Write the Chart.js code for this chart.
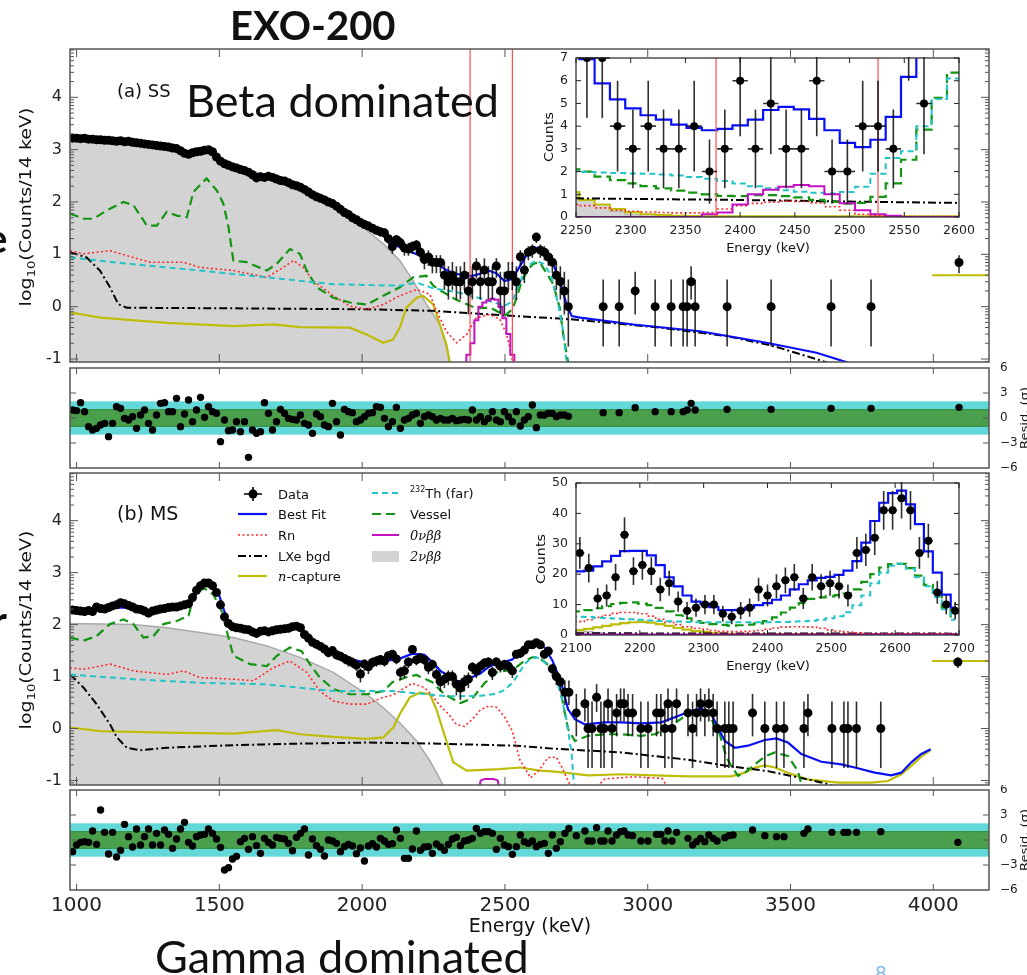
<!DOCTYPE html>
<html>
<head>
<meta charset="utf-8">
<title>EXO-200 fit</title>
<script src="https://cdn.jsdelivr.net/npm/chart.js@4.4.1/dist/chart.umd.min.js"></script>
<style>
  html, body { margin: 0; padding: 0; background: #fff; }
  body { position: relative; width: 1027px; height: 975px; overflow: hidden; font-family: 'DejaVu Sans', sans-serif; color: #111; }
  canvas { position: absolute; }
  .txt { position: absolute; white-space: nowrap; line-height: 1; }
  .ctr { transform: translate(-50%, -50%); }
  .rot { transform: translate(-50%, -50%) rotate(-90deg) scaleX(1.19); }
  .leg { position: absolute; white-space: nowrap; font-size: 13px; line-height: 1; transform: translateY(-50%); color: #111; }
  .gk { font-family: 'DejaVu Serif', serif; font-style: italic; }
  sub, sup { line-height: 0; }
</style>
</head>
<body>
<canvas id="mainA" width="1027" height="330" style="left:0;top:40px"></canvas>
<canvas id="residA" width="1027" height="112" style="left:0;top:362px"></canvas>
<canvas id="mainB" width="1027" height="330" style="left:0;top:465px"></canvas>
<canvas id="residB" width="1027" height="150" style="left:0;top:785px"></canvas>
<canvas id="insetA" width="460" height="210" style="left:520px;top:50px"></canvas>
<canvas id="insetB" width="460" height="205" style="left:520px;top:475px"></canvas>

<div class="txt" style="left:230px;top:5px;font:700 40px/1 Lato">EXO-200</div>
<div class="txt" style="left:186px;top:78px;font:400 45px/1 Lato">Beta dominated</div>
<div class="txt" style="left:155px;top:934px;font:400 45px/1 Lato">Gamma dominated</div>
<div class="txt" style="left:-14px;top:218px;font:700 40px/1 Lato">e</div>
<div class="txt" style="left:-8px;top:600px;font:700 40px/1 Lato">r</div>
<div class="txt" style="left:875px;top:962px;font:400 20px/1 Lato;color:#7db9ea">8</div>

<div class="txt" style="left:117px;top:82px;font-size:18px">(a) SS</div>
<div class="txt" style="left:117px;top:504px;font-size:19px">(b) MS</div>
<div class="txt rot" style="left:26px;top:207px;font-size:16px">log<sub style="font-size:11px">10</sub>(Counts/14 keV)</div>
<div class="txt rot" style="left:26px;top:630px;font-size:16px">log<sub style="font-size:11px">10</sub>(Counts/14 keV)</div>
<div class="txt rot" style="left:1024px;top:418px;font-size:11px">Resid. (σ)</div>
<div class="txt rot" style="left:1024px;top:840px;font-size:11px">Resid. (σ)</div>
<div class="txt ctr" style="left:530px;top:925px;font-size:19px">Energy (keV)</div>
<div class="txt ctr" style="left:768px;top:247px;font-size:13px">Energy (keV)</div>
<div class="txt ctr" style="left:768px;top:665px;font-size:13px">Energy (keV)</div>
<div class="txt rot" style="left:549px;top:137px;font-size:12px">Counts</div>
<div class="txt rot" style="left:541px;top:559px;font-size:12px">Counts</div>

<div class="leg" style="left:278px;top:494px">Data</div>
<div class="leg" style="left:278px;top:514px">Best Fit</div>
<div class="leg" style="left:278px;top:535px">Rn</div>
<div class="leg" style="left:278px;top:556px">LXe bgd</div>
<div class="leg" style="left:278px;top:576px"><span class="gk">n</span>-capture</div>
<div class="leg" style="left:410px;top:493px"><sup style="font-size:8px">232</sup>Th (far)</div>
<div class="leg" style="left:410px;top:514px">Vessel</div>
<div class="leg" style="left:410px;top:535px"><span class="gk">0νββ</span></div>
<div class="leg" style="left:410px;top:556px"><span class="gk">2νββ</span></div>

<script>
// ---- binning / axes ----
const BIN_START = 986;
const BIN_WIDTH = 14;
const xTicks = [1000, 1500, 2000, 2500, 3000, 3500, 4000];
const mainYTicks = [-1, 0, 1, 2, 3, 4];
const residYTicks = [-6, -3, 0, 3, 6];
const roiEdges = [2378, 2526];
const insetAXTicks = [2250, 2300, 2350, 2400, 2450, 2500, 2550, 2600];
const insetAYTicks = [0, 1, 2, 3, 4, 5, 6, 7];
const insetBXTicks = [2100, 2200, 2300, 2400, 2500, 2600, 2700];
const insetBYTicks = [0, 10, 20, 30, 40, 50];

// ---- (a) single-site: data, log10(counts) per 14 keV bin ----
const ssData = [
  3.22, 3.22, 3.21, 3.22, 3.20, 3.20, 3.19, 3.19, 3.18, 3.18,
  3.17, 3.16, 3.17, 3.15, 3.16, 3.14, 3.13, 3.12, 3.11, 3.10,
  3.09, 3.08, 3.07, 3.06, 3.05, 3.03, 3.02, 2.98, 2.93, 2.91,
  2.94, 2.96, 2.97, 2.99, 3.00, 2.96, 2.86, 2.78, 2.73, 2.70,
  2.67, 2.65, 2.62, 2.60, 2.57, 2.52, 2.46, 2.48, 2.47, 2.49,
  2.47, 2.44, 2.41, 2.40, 2.37, 2.33, 2.31, 2.28, 2.24, 2.19,
  2.14, 2.10, 2.07, 2.04, 2.00, 1.97, 1.92, 1.86, 1.80, 1.76,
  1.70, 1.66, 1.61, 1.57, 1.54, 1.50, 1.46, 1.43, 1.41, 1.30,
  1.15, 1.28, 1.22, 1.12, 1.10, 1.15, 1.18, 1.04, 0.90, 0.95,
  0.85, 0.845, 0.845, 0.602, 0.477, 0.602, 0.477, 0.477, 0.602, 0.301,
  0.477, 0.778, 0.477, 0.699, 0.477, 0.477, 0.778, 0.301, 0.301, 0.602,
  0.602, 0.477, 0.954, 0.699, 1.04, 1.08, 1.33, 1.08, 1.04, 0.95,
  0.85, 0.60, 0.48, 0.30, 0
];
const ssSparseE = [2844, 2900, 2956, 3026, 3082, 3124, 3138, 3152, 3166, 3278, 3432, 3642, 3782, 4090];
const ssSparse = [0, 0, 0.301, 0, 0, 0, 0, 0.477, 0, 0, 0, 0, 0, 0.845];
const ssResid = [
  0.96, 0.88, 1.84, 0.76, -1.04, -1.44, -1.24, -0.84, -0.64, -2.24,
  -0.64, 1.36, 1.16, -0.04, -0.24, 0.16, -1.24, 0.36, 0.96, -0.64,
  -1.44, 0.36, 1.76, 1.84, 0.76, 0.76, 2.36, -1.04, 0.48, 2.16,
  -0.44, 0.96, 2.48, 0.08, 1.36, 0.76, 0.56, -2.84, -0.24, -1.52,
  -1.44, -0.44, -1.64, -0.44, -4.72, -1.44, -1.84, -1.64, 1.84, 0.56,
  -1.44, -0.44, 1.04, 0.56, -0.04, -0.16, -0.24, 0.36, -0.64, -0.84,
  -1.84, 0.48, 0.16, -0.84, -1.04, 1.76, -0.44, -2.04, 1.04, 0.76,
  0.64, -0.44, -0.24, 0.16, 0.56, 0.64, 1.36, 1.28, -0.04, -1.04,
  -0.44, 1.28, -1.24, -0.24, -0.04, 0.36, 0.56, -0.64, 0.16, 0.36,
  0.16, -0.24, -0.04, -0.24, -0.24, -0.04, -0.32, -0.24, -0.16, -0.24,
  0.96, -0.24, 0.16, -0.44, -0.04, 0.76, -0.24, -0.44, 0.76, 0.16,
  -0.44, 0.76, -0.96, -0.24, 0.16, 1.56, -1.16, 0.36, 0.36, 0.56,
  0.56, 0.16, 0.36, 0.36, 0.2
];
const ssResidSparse = [0.64, 0.64, 1.24, 0.76, 0.76, 0.76, 0.96, 1.76, 0.96, 1.04, 1.04, 1.16, 1.16, 1.28];

// (a) model components, log10(counts)
const ssBestE = [977, 1100, 1200, 1300, 1380, 1420, 1460, 1500, 1540, 1620, 1700, 1782, 1850, 1899, 1960, 2016, 2074, 2132, 2191, 2249,
  2274, 2302, 2330, 2358, 2386, 2414, 2442, 2470, 2498, 2526, 2554, 2582, 2600, 2622, 2646, 2669, 2692, 2716, 2734, 2763,
  2950, 3183, 3416, 3591, 3708, 3760];
const ssBest = [3.21, 3.18, 3.14, 3.07, 2.96, 2.95, 2.99, 2.82, 2.70, 2.55, 2.45, 2.30, 2.10, 1.96, 1.74, 1.55, 1.35, 1.13, 1.00, 0.86,
  0.77, 0.68, 0.63, 0.59, 0.59, 0.63, 0.69, 0.64, 0.49, 0.53, 0.79, 1.04, 1.14, 1.10, 1.01, 0.82, 0.49, 0.04, -0.18, -0.21,
  -0.34, -0.47, -0.69, -0.88, -1.08, -1.2];
const ssThE = [977, 1199, 1432, 1666, 1899, 2132, 2191, 2249, 2330, 2400, 2450, 2500, 2526, 2540, 2554, 2568, 2582, 2610, 2635, 2660, 2687, 2704, 2716, 2722];
const ssTh = [0.94, 0.81, 0.69, 0.56, 0.43, 0.40, 0.46, 0.35, 0.28, 0.18, 0.10, 0.02, 0.10, 0.32, 0.46, 0.72, 0.79, 0.88, 0.82, 0.62, 0.04, -0.47, -1.08, -1.3];
const ssVesselE = [977, 1024, 1059, 1106, 1164, 1199, 1246, 1281, 1316, 1351, 1386, 1409, 1455, 1491, 1514, 1532, 1549, 1596, 1666, 1701,
  1747, 1782, 1806, 1841, 1899, 1957, 2016, 2074, 2132, 2179, 2225, 2249, 2274, 2330, 2400, 2450, 2500, 2526, 2540, 2554,
  2568, 2582, 2600, 2622, 2669, 2692, 2704, 2722, 2730];
const ssVessel = [1.78, 1.68, 1.68, 1.84, 2.0, 1.94, 1.55, 1.55, 1.81, 1.74, 1.71, 2.19, 2.45, 2.22, 1.97, 1.52, 0.88, 0.85, 0.69, 0.82,
  1.1, 1.01, 0.69, 0.37, 0.17, 0.08, 0.04, 0.21, 0.37, 0.56, 0.59, 0.40, 0.31, 0.13, -0.03, -0.02, -0.17, -0.05, 0.16, 0.40,
  0.58, 0.72, 0.82, 0.85, 0.43, -0.02, -0.53, -1.08, -1.3];
const ssRnE = [977, 1024, 1117, 1199, 1257, 1374, 1432, 1549, 1666, 1724, 1759, 1794, 1829, 1899, 1957, 2016, 2074, 2132, 2191, 2237,
  2260, 2295, 2331, 2366, 2400, 2447, 2482, 2506, 2529, 2545];
const ssRn = [1.07, 1.01, 1.07, 0.94, 0.85, 0.85, 0.75, 0.69, 0.56, 0.75, 0.88, 0.75, 0.49, 0.21, 0.01, -0.05, 0.04, 0.21, 0.33, 0.24,
  -0.08, -0.47, -0.69, -0.53, -0.21, -0.15, -0.24, -0.53, -1.08, -1.3];
const ssLxeE = [977, 1035, 1082, 1117, 1146, 1176, 1500, 2016, 2249, 2482, 2727, 3042, 3276, 3439, 3637, 3700];
const ssLxe = [1.04, 0.94, 0.69, 0.37, 0.05, -0.02, -0.03, -0.05, -0.08, -0.16, -0.24, -0.40, -0.56, -0.75, -1.08, -1.2];
const ssZeroE = [2358, 2372, 2386, 2400, 2414, 2428, 2442, 2456, 2470, 2484, 2498, 2512, 2526, 2540];
const ssZero = [-1.5, -0.92, -0.70, -0.26, 0.0, 0.08, 0.12, 0.15, 0.13, 0.0, -0.22, -0.52, -0.92, -1.5];
const ssNcapE = [977, 1082, 1316, 1549, 1689, 1782, 1957, 2016, 2074, 2108, 2132, 2155, 2191, 2213, 2249, 2272, 2295, 2307, 2315];
const ssNcap = [-0.11, -0.21, -0.31, -0.37, -0.34, -0.39, -0.40, -0.53, -0.69, -0.63, -0.40, -0.02, 0.17, 0.21, 0.04, -0.34, -0.72, -1.08, -1.3];
const ssNcapOverE = [3995, 4200];
const ssNcapOver = [0.60, 0.60];
const ssDbdE = [977, 1100, 1200, 1300, 1400, 1455, 1500, 1620, 1700, 1782, 1850, 1899, 1960, 2016, 2074, 2132, 2179, 2225, 2272, 2300, 2315];
const ssDbd = [3.16, 3.13, 3.09, 3.04, 2.97, 2.92, 2.85, 2.58, 2.45, 2.29, 2.12, 1.94, 1.72, 1.46, 1.20, 0.88, 0.49, 0.05, -0.34, -0.85, -1.3];

// (a) inset, counts per bin (model bins start at 2246, data at 2260)
const SS_INSET_BIN0 = 2246;
const SS_INSET_DATA0 = 2260;
const ssInCounts = [7, 7, 4, 3, 4, 3, 3, 4, 2, 3, 6, 3, 5, 3, 3, 6, 2, 2, 4, 4, 3, 9, 5];
const ssInBest = [7.3, 6.95, 5.88, 5.18, 4.78, 4.48, 4.29, 4.07, 3.92, 3.82, 3.88, 4.03, 4.29, 4.71, 4.85, 4.74, 4.32, 3.82, 3.26, 3.08,
  3.40, 4.41, 6.17, 9.0, 11.0, 13.0, 13.5];
const ssInTh = [2.0, 1.98, 1.96, 1.94, 1.92, 1.9, 1.87, 1.83, 1.76, 1.68, 1.58, 1.48, 1.35, 1.27, 1.18, 1.11, 1.07, 1.04, 1.1, 1.33,
  1.9, 2.6, 2.9, 4.0, 5.2, 6.1, 6.2];
const ssInVessel = [2.1, 2.0, 1.78, 1.62, 1.48, 1.36, 1.26, 1.16, 1.07, 1.0, 0.93, 0.92, 0.96, 0.96, 0.92, 0.86, 0.75, 0.67, 0.59, 0.62,
  0.89, 1.48, 2.52, 3.85, 5.25, 6.36, 6.4];
const ssInRn = [0.55, 0.5, 0.4, 0.3, 0.25, 0.22, 0.2, 0.18, 0.18, 0.2, 0.35, 0.5, 0.6, 0.65, 0.7, 0.68, 0.62, 0.45, 0.3, 0.12,
  0.05, 0.03, 0.02, 0.02, 0.02, 0.02, 0.02];
const ssInZero = [0, 0, 0, 0, 0, 0, 0, 0, 0, 0.12, 0.2, 0.55, 1.0, 1.2, 1.33, 1.41, 1.35, 1.0, 0.6, 0.3,
  0.12, 0.05, 0, 0, 0, 0, 0];
const ssInNcap = [1.1, 0.75, 0.55, 0.35, 0.2, 0.12, 0.08, 0.05, 0.04, 0.03, 0.03, 0.03, 0.03, 0.03, 0.03, 0.03, 0.03, 0.03, 0.03, 0.03,
  0.03, 0.03, 0.03, 0.03, 0.03, 0.03, 0.03];
const ssInDbd = [0.95, 0.75, 0.55, 0.25, 0.1, 0.04, 0.02, 0, 0, 0, 0, 0, 0, 0, 0, 0, 0, 0, 0, 0,
  0, 0, 0, 0, 0, 0, 0];
const ssInLxeE = [2250, 2400, 2500, 2600];
const ssInLxe = [0.82, 0.75, 0.68, 0.62];

// ---- (b) multi-site ----
const msData = [
  2.28, 2.27, 2.26, 2.25, 2.27, 2.25, 2.34, 2.31, 2.30, 2.33,
  2.36, 2.38, 2.42, 2.40, 2.37, 2.34, 2.30, 2.29, 2.26, 2.22,
  2.26, 2.28, 2.30, 2.31, 2.33, 2.34, 2.34, 2.36, 2.38, 2.40,
  2.52, 2.66, 2.75, 2.80, 2.80, 2.75, 2.62, 2.38, 2.15, 2.02,
  1.96, 1.94, 1.93, 1.91, 1.90, 1.86, 1.83, 1.87, 1.88, 1.86,
  1.88, 1.90, 1.91, 1.92, 1.93, 1.96, 1.97, 1.94, 1.81, 1.74,
  1.66, 1.62, 1.58, 1.53, 1.46, 1.50, 1.42, 1.39, 1.35, 1.31,
  1.27, 1.22, 1.05, 1.24, 1.19, 1.27, 1.30, 1.33, 1.30, 1.40,
  1.43, 1.34, 1.08, 1.11, 1.28, 1.52, 1.32, 1.36, 1.32, 1.18,
  1.23, 1.04, 0.90, 0.95, 1.00, 1.00, 0.85, 0.78, 0.90, 0.95,
  1.18, 1.11, 1.20, 1.26, 1.28, 1.08, 1.28, 1.20, 1.23, 1.20,
  1.11, 1.43, 1.45, 1.51, 1.61, 1.61, 1.65, 1.61, 1.43, 1.49,
  1.15, 1.00, 0.90
];
const msSparseE = [2710, 2724, 2750, 2780, 2791, 2805, 2821, 2836, 2847, 2861, 2875, 2891, 2905, 2917, 2931, 2947, 2976, 3001, 3031, 3046,
  3060, 3071, 3085, 3101, 3141, 3157, 3171, 3185, 3200, 3214, 3229, 3243, 3270, 3284, 3299, 3367, 3410, 3451, 3477, 3547,
  3561, 3645, 3687, 3701, 3731, 3816, 4086];
const msSparse = [0.699, 0.699, 0.301, 0.477, 0, 0, 0.602, 0, 0, 0.477, 0, 0.301, 0.477, 0.477, 0.301, 0.301, 0, 0, 0.301, 0.301,
  0, 0.477, 0, 0.477, 0.301, 0, 0.301, 0.477, 0.301, 0.477, 0.301, 0, 0, 0, 0, 0.301, 0, 0, 0, 0,
  0.301, 0, 0, 0, 0, 0, 1.28];
const msResid = [
  -1.4, -0.6, -0.28, -0.2, -0.28, 1.08, -0.52, 3.6, 0.92, -1.68,
  0.92, -2.04, -1.24, 1.88, 0.4, -0.84, 1.32, -0.6, 0.4, 1.32,
  -0.6, 0.8, -0.6, 1.2, 0.68, -1.0, 0.12, 1.32, 2.12, -0.28,
  -0.72, 0.4, 0.6, 0.68, 1.32, 0.8, 0.12, -0.88, -3.6, -3.32,
  -2.28, -1.96, -0.2, 0.2, -1.12, 0.4, -0.68, -1.6, 0.2, -0.28,
  -0.6, 0.32, 0.2, 0.12, -0.4, -1.28, 0.32, 0.8, 1.32, -1.8,
  0.12, -0.68, -1.12, -1.92, 0, -0.12, -0.4, -1.4, -0.8, -0.52,
  -0.72, -1.64, -0.96, -2.52, -0.72, -0.44, -0.84, 0.2, -0.12, -0.52,
  -0.44, 1.2, 0.2, -2.2, -2.2, -1.08, 1.08, -1.24, -0.84, -0.8,
  -1.6, -0.48, -0.84, -1.24, -0.52, 0.12, 0.32, -0.68, -0.12, 0,
  0.2, 1.4, 0.8, 1.0, 1.0, 0.8, -1.12, 0.2, -0.6, -0.8,
  -1.72, -0.8, 0.6, -0.2, -0.4, -0.12, -0.8, -0.52, -0.4, -1.6,
  0.6, -1.0, -0.2
];
const msResidSparse = [0.8, 1.4, 0.52, 1.08, -0.12, -0.12, 1.48, -0.12, -0.12, 1.08, -0.12, 0.6, 1.0, 1.08, 0.6, 0.52, -0.12, -0.12, 0.68, 0.68,
  -0.12, 1.08, -0.12, 0.92, 0.2, -0.6, -0.2, 0.2, -0.2, 0.6, 0.2, -0.12, 0.28, 0.52, 0.6, 1.2, 0.52, 0.4, 0.4, 0.8,
  1.32, 0.92, 0.92, 0.92, 0.92, 1.0, -0.28];

const msBestE = [977, 1100, 1200, 1250, 1320, 1400, 1430, 1455, 1480, 1500, 1515, 1530, 1560, 1620, 1700, 1782, 1806, 1841, 1899, 1957,
  2016, 2074, 2106, 2134, 2176, 2218, 2246, 2274, 2302, 2330, 2358, 2386, 2414, 2442, 2470, 2498, 2526, 2554, 2582, 2610,
  2624, 2638, 2652, 2666, 2680, 2694, 2721, 2745, 2780, 2850, 2908, 2978, 3048, 3106, 3153, 3188, 3223, 3246, 3270, 3305,
  3351, 3410, 3451, 3491, 3538, 3608, 3678, 3725, 3795, 3853, 3888, 3923, 3958, 3991];
const msBest = [2.28, 2.32, 2.33, 2.25, 2.32, 2.40, 2.70, 2.80, 2.75, 2.55, 2.30, 2.05, 1.93, 1.88, 1.88, 1.97, 1.81, 1.59, 1.43, 1.33,
  1.27, 1.30, 1.32, 1.35, 1.44, 1.42, 1.28, 1.11, 1.01, 0.91, 0.92, 0.99, 1.06, 1.18, 1.26, 1.28, 1.33, 1.48, 1.64, 1.68,
  1.63, 1.56, 1.44, 1.31, 1.12, 0.95, 0.37, 0.18, 0.08, 0.12, 0.12, 0.10, 0.12, 0.24, 0.34, 0.38, 0.27, 0.02, -0.24, -0.37,
  -0.33, -0.22, -0.19, -0.27, -0.49, -0.64, -0.69, -0.75, -0.85, -0.90, -0.85, -0.65, -0.49, -0.40];
const msThE = [977, 1199, 1432, 1666, 1899, 2016, 2106, 2246, 2302, 2414, 2470, 2498, 2526, 2540, 2554, 2568, 2582, 2596, 2610, 2624,
  2638, 2652, 2666, 2680, 2694, 2715, 2733, 2745];
const msTh = [1.04, 0.95, 0.88, 0.85, 0.72, 0.72, 0.72, 0.65, 0.62, 0.63, 0.67, 0.74, 0.88, 0.99, 1.11, 1.23, 1.31, 1.36, 1.37, 1.34,
  1.28, 1.20, 1.10, 0.93, 0.70, 0.18, -0.46, -1.3];
const msVesselE = [977, 1024, 1070, 1117, 1164, 1199, 1234, 1269, 1304, 1351, 1392, 1409, 1444, 1479, 1508, 1532, 1549, 1607, 1666, 1701,
  1747, 1788, 1817, 1852, 1899, 1957, 2016, 2074, 2106, 2150, 2190, 2246, 2288, 2344, 2386, 2428, 2470, 2512, 2540, 2568,
  2596, 2610, 2624, 2638, 2652, 2666, 2680, 2694, 2721, 2745, 2791, 2850, 2908, 2978, 3025, 3083, 3130, 3165, 3200, 3223,
  3252, 3276, 3293, 3316, 3340, 3375, 3410, 3445, 3491, 3526, 3544];
const msVessel = [1.75, 1.69, 1.78, 2.01, 2.10, 2.01, 1.75, 1.78, 2.01, 2.07, 2.17, 2.52, 2.71, 2.58, 2.26, 1.75, 1.40, 1.24, 1.20, 1.40,
  1.56, 1.49, 1.24, 0.98, 0.76, 0.66, 0.66, 0.72, 0.89, 0.98, 1.03, 0.89, 0.66, 0.49, 0.58, 0.87, 1.08, 1.12, 1.18, 1.30,
  1.37, 1.37, 1.34, 1.29, 1.22, 1.11, 0.95, 0.74, -0.01, -0.24, -0.14, -0.11, -0.11, -0.14, -0.11, 0.05, 0.24, 0.31, 0.31, 0.18,
  -0.11, -0.56, -0.72, -0.91, -0.85, -0.69, -0.54, -0.46, -0.53, -0.82, -1.2];
const msRnE = [977, 1024, 1117, 1199, 1316, 1374, 1432, 1549, 1619, 1689, 1747, 1806, 1852, 1899, 1957, 2016, 2074, 2106, 2176, 2218,
  2246, 2274, 2302, 2330, 2358, 2386, 2414, 2442, 2470, 2498, 2526, 2552, 2590, 2620, 2650, 2680, 2700, 2725, 2735];
const msRn = [1.17, 1.14, 1.24, 1.11, 1.04, 1.11, 0.98, 0.95, 0.92, 1.17, 1.30, 1.08, 0.72, 0.53, 0.47, 0.47, 0.60, 0.64, 0.87, 0.79,
  0.63, 0.43, 0.28, 0.08, 0.04, 0.18, 0.36, 0.43, 0.41, 0.23, -0.05, -0.6, -0.95, -0.80, -0.56, -0.55, -0.75, -1.05, -1.3];
const msRnTailE = [2790, 2850, 2950, 3050, 3090];
const msRnTail = [-1.3, -0.97, -0.93, -0.96, -1.3];
const msLxeE = [977, 1024, 1070, 1117, 1141, 1176, 1222, 1316, 1549, 1782, 2016, 2249, 2541, 2675, 2908, 3141, 3281, 3421, 3561, 3631, 3700];
const msLxe = [1.04, 0.79, 0.47, 0.08, -0.17, -0.37, -0.42, -0.37, -0.32, -0.29, -0.27, -0.29, -0.33, -0.39, -0.46, -0.60, -0.72, -0.82, -0.98, -1.07, -1.2];
const msZeroE = [2405, 2415, 2430, 2460, 2475, 2485];
const msZero = [-1.3, -1.0, -0.97, -0.97, -1.0, -1.3];
const msNcapE = [977, 1082, 1316, 1549, 1701, 1782, 1899, 2016, 2074, 2109, 2132, 2167, 2202, 2237, 2260, 2295, 2319, 2366, 2482, 2552,
  2622, 2675, 2791, 2908, 3025, 3141, 3293, 3340, 3375, 3410, 3445, 3491, 3561, 3666, 3783, 3841, 3888, 3923, 3958, 3991];
const msNcap = [0.02, -0.05, -0.08, -0.10, -0.03, -0.11, -0.16, -0.20, -0.17, 0.02, 0.28, 0.60, 0.69, 0.66, 0.37, -0.24, -0.65, -0.81, -0.78, -0.75,
  -0.81, -0.83, -0.90, -0.88, -0.90, -0.92, -0.92, -0.85, -0.75, -0.71, -0.75, -0.85, -0.98, -1.04, -1.04, -1.01, -0.88, -0.72, -0.54, -0.41];
const msNcapOverE = [3995, 4200];
const msNcapOver = [1.30, 1.30];
const msDbdE = [977, 1199, 1316, 1432, 1549, 1666, 1782, 1899, 2016, 2074, 2132, 2191, 2237, 2272, 2284, 2290];
const msDbd = [2.02, 2.0, 1.94, 1.85, 1.75, 1.59, 1.37, 1.08, 0.66, 0.40, 0.11, -0.24, -0.62, -0.97, -1.1, -1.3];

// (b) inset, counts per bin (model bins start at 2092, data at 2106)
const MS_INSET_BIN0 = 2092;
const MS_INSET_DATA0 = 2106;
const msInCounts = [27, 22, 12, 13, 19, 33, 21, 23, 21, 15, 17, 11, 8, 9, 10, 10, 7, 6, 8, 9,
  15, 13, 16, 18, 19, 12, 19, 16, 17, 16, 13, 27, 28, 32, 41, 41, 45, 41, 27, 31, 14, 10, 8];
const msInBest = [20.9, 20.9, 21.2, 22.6, 24.2, 26.0, 27.6, 27.7, 27.7, 26.2, 23.0, 19.0, 16.0, 13.0, 11.0, 10.3, 9.2, 8.2, 8.2, 8.3,
  9.0, 9.8, 10.5, 11.6, 13.0, 15.0, 16.7, 18.0, 18.8, 19.1, 19.8, 21.2, 24.3, 30.4, 37.5, 43.5, 46.7, 47.5, 43.0, 36.5,
  27.5, 20.5, 13.3, 9.0];
const msInVessel = [7.8, 7.8, 8.2, 8.8, 9.5, 10.2, 10.6, 10.7, 10.3, 9.8, 8.9, 7.8, 6.5, 5.5, 4.6, 4.0, 3.6, 3.3, 3.1, 3.2,
  3.4, 3.8, 4.6, 5.8, 7.4, 9.0, 10.5, 11.9, 12.4, 12.7, 13.1, 13.6, 15.0, 17.5, 20.0, 22.2, 23.3, 23.4, 22.0, 19.5,
  16.5, 13.0, 9.0, 5.5];
const msInTh = [6.0, 6.0, 5.9, 5.7, 5.6, 5.4, 5.3, 5.2, 5.0, 4.8, 4.6, 4.5, 4.4, 4.3, 4.2, 4.2, 4.2, 4.2, 4.2, 4.2,
  4.2, 4.2, 4.2, 4.3, 4.3, 4.4, 4.5, 4.7, 5.0, 5.5, 6.2, 7.5, 9.8, 13.0, 17.0, 20.5, 22.8, 23.4, 21.8, 19.0,
  16.0, 12.5, 8.5, 5.0];
const msInRn = [4.2, 4.4, 5.0, 5.8, 6.5, 7.1, 7.4, 7.4, 7.0, 6.2, 5.2, 4.3, 3.4, 2.7, 2.2, 1.9, 1.5, 1.2, 1.1, 1.1,
  1.2, 1.5, 1.9, 2.3, 2.6, 2.7, 2.7, 2.6, 2.2, 1.7, 1.3, 1.0, 0.7, 0.5, 0.4, 0.4, 0.4, 0.4, 0.4, 0.4,
  0.4, 0.4, 0.4, 0.4];
const msInNcap = [1.5, 1.6, 2.0, 2.5, 3.0, 3.5, 3.9, 4.2, 4.3, 4.1, 3.6, 3.0, 2.3, 1.8, 1.3, 1.0, 0.7, 0.5, 0.4, 0.3,
  0.3, 0.3, 0.3, 0.3, 0.3, 0.3, 0.3, 0.3, 0.3, 0.3, 0.3, 0.3, 0.3, 0.3, 0.3, 0.3, 0.3, 0.3, 0.3, 0.3,
  0.3, 0.3, 0.3, 0.3];
const msInDbd = [1.6, 1.5, 1.2, 0.8, 0.4, 0.1, 0, 0, 0, 0, 0, 0, 0, 0, 0, 0, 0, 0, 0, 0,
  0, 0, 0, 0, 0, 0, 0, 0, 0, 0, 0, 0, 0, 0, 0, 0, 0, 0, 0, 0,
  0, 0, 0, 0];
const msInLxeE = [2100, 2700];
const msInLxe = [0.55, 0.45];
const msInZeroE = [2100, 2700];
const msInZero = [0.2, 0.2];

// 68% Poisson intervals for small counts (n = 0..5)
const POISSON_LO = [0, 0.173, 0.708, 1.37, 2.09, 2.84];
const POISSON_HI = [1.84, 3.30, 4.64, 5.92, 7.16, 8.38];

// ---- styles ----
const X_MIN = 977, X_MAX = 4195;
const Y_A = [-1.057, 4.923];
const Y_B = [-1.087, 4.918];
const BLUE = '#0a10f5', GREEN = '#139413', CYAN = '#22c4c8', RED = '#ff2a2a';
const YELLOW = '#bdbd0a', MAGENTA = '#c210c2', GREY = '#d3d3d3', GREY_EDGE = '#a9a9a9', ROI_RED = '#ff4d4d';
const DASH_TH = [6, 4], DASH_VESSEL = [9, 5], DOT_RN = [2, 2.5], DASHDOT = [8, 3, 2, 3];

function binCenters(start, n) {
  return Array.from({ length: n }, (_, i) => start + BIN_WIDTH * i);
}
function xy(xs, ys) {
  return ys.map((y, i) => ({ x: xs[i], y }));
}
function line(data, color, width, dash, extra) {
  return Object.assign({ data, showLine: true, pointRadius: 0, borderColor: color, backgroundColor: color,
    borderWidth: width, borderDash: dash || [], fill: false }, extra || {});
}
function points(data, radius, extra) {
  return Object.assign({ data, showLine: false, pointRadius: radius, pointHoverRadius: radius,
    pointBackgroundColor: '#000', pointBorderWidth: 0, borderColor: '#000' }, extra || {});
}
function logMinor(min, max) {
  const out = [];
  for (let d = Math.floor(min); d < max; d++) {
    for (let m = 2; m < 10; m++) {
      const v = d + Math.log10(m);
      if (v > min && v < max) out.push(v);
    }
  }
  return out;
}

// frame, inward ticks, residual bands, inset background
const framePlugin = {
  id: 'frame',
  beforeDatasetsDraw(chart, args, o) {
    const { ctx, chartArea: a, scales: { y } } = chart;
    if (o.background) {
      ctx.save();
      ctx.fillStyle = o.background;
      ctx.fillRect(a.left, a.top, a.width, a.height);
      ctx.restore();
    }
    if (o.bands) {
      ctx.save();
      o.bands.forEach(b => {
        const t = y.getPixelForValue(b.half), btm = y.getPixelForValue(-b.half);
        ctx.fillStyle = b.color;
        ctx.fillRect(a.left, t, a.width, btm - t);
        if (b.edge) {
          ctx.strokeStyle = b.edge;
          ctx.lineWidth = 1;
          ctx.beginPath();
          ctx.moveTo(a.left, t); ctx.lineTo(a.right, t);
          ctx.moveTo(a.left, btm); ctx.lineTo(a.right, btm);
          ctx.stroke();
        }
      });
      ctx.restore();
    }
  },
  afterDraw(chart, args, o) {
    if (!o.color) return;
    const { ctx, chartArea: a, scales: { x, y } } = chart;
    ctx.save();
    ctx.strokeStyle = o.color;
    ctx.lineWidth = 1;
    ctx.beginPath();
    (o.xMajor || []).forEach(v => {
      const p = x.getPixelForValue(v);
      ctx.moveTo(p, a.bottom); ctx.lineTo(p, a.bottom - o.len);
      ctx.moveTo(p, a.top); ctx.lineTo(p, a.top + o.len);
    });
    (o.yMajor || []).forEach(v => {
      const p = y.getPixelForValue(v);
      ctx.moveTo(a.left, p); ctx.lineTo(a.left + o.len, p);
      ctx.moveTo(a.right, p); ctx.lineTo(a.right - o.len, p);
    });
    (o.yMinor || []).forEach(v => {
      const p = y.getPixelForValue(v);
      ctx.moveTo(a.left, p); ctx.lineTo(a.left + o.minorLen, p);
      ctx.moveTo(a.right, p); ctx.lineTo(a.right - o.minorLen, p);
    });
    ctx.stroke();
    ctx.lineWidth = o.borderWidth;
    ctx.strokeRect(a.left, a.top, a.width, a.height);
    ctx.restore();
  }
};

// error bars: 'log' datasets hold log10(counts), 'lin' datasets hold counts
const errorBarPlugin = {
  id: 'errorBars',
  afterDatasetsDraw(chart) {
    const { ctx, chartArea: a, scales: { x, y } } = chart;
    ctx.save();
    ctx.beginPath();
    ctx.rect(a.left, a.top - 1, a.width, a.height + 2);
    ctx.clip();
    ctx.strokeStyle = 'rgba(0,0,0,0.82)';
    ctx.lineWidth = 1.6;
    chart.data.datasets.forEach(ds => {
      if (!ds.errMode) return;
      ds.data.forEach(p => {
        let lo, hi;
        if (ds.errMode === 'log') {
          const n = Math.round(Math.pow(10, p.y));
          const r = n <= 5 ? [POISSON_LO[n], POISSON_HI[n]] : [n - Math.sqrt(n), n + Math.sqrt(n)];
          lo = r[0] > 0 ? Math.log10(r[0]) : y.min - 1;
          hi = Math.log10(r[1]);
        } else {
          lo = p.y - Math.sqrt(p.y);
          hi = p.y + Math.sqrt(p.y);
        }
        const px = x.getPixelForValue(p.x);
        ctx.beginPath();
        ctx.moveTo(px, y.getPixelForValue(lo));
        ctx.lineTo(px, y.getPixelForValue(hi));
        if (ds.xErr) {
          const py = y.getPixelForValue(p.y);
          ctx.moveTo(x.getPixelForValue(p.x - ds.xErr), py);
          ctx.lineTo(x.getPixelForValue(p.x + ds.xErr), py);
        }
        ctx.stroke();
      });
    });
    ctx.restore();
  }
};

// legend keys for panel (b); labels are HTML text
const legendKeys = {
  id: 'legendKeys',
  afterDraw(chart) {
    const ctx = chart.ctx;
    const top = 465;
    const seg = (x0, x1, y, color, w, dash) => {
      ctx.save();
      ctx.strokeStyle = color; ctx.lineWidth = w; ctx.setLineDash(dash);
      ctx.beginPath(); ctx.moveTo(x0, y - top); ctx.lineTo(x1, y - top); ctx.stroke();
      ctx.restore();
    };
    ctx.save();
    ctx.strokeStyle = '#000'; ctx.lineWidth = 1.6;
    ctx.beginPath();
    ctx.moveTo(253, 487 - top); ctx.lineTo(253, 501 - top);
    ctx.moveTo(244, 494 - top); ctx.lineTo(262, 494 - top);
    ctx.stroke();
    ctx.fillStyle = '#000';
    ctx.beginPath(); ctx.arc(253, 494 - top, 4.5, 0, Math.PI * 2); ctx.fill();
    ctx.restore();
    seg(238, 267, 514, BLUE, 2.2, []);
    seg(238, 267, 535, RED, 1.6, DOT_RN);
    seg(238, 267, 556, '#000', 2, DASHDOT);
    seg(238, 267, 576, YELLOW, 2.2, []);
    seg(372, 399, 493, CYAN, 2, DASH_TH);
    seg(372, 399, 514, GREEN, 2.2, DASH_VESSEL);
    seg(372, 399, 535, MAGENTA, 2, []);
    ctx.save();
    ctx.fillStyle = GREY;
    ctx.fillRect(372, 551 - top, 27, 11);
    ctx.restore();
  }
};

Chart.register(framePlugin, errorBarPlugin);
Chart.defaults.font.family = "'DejaVu Sans'";
Chart.defaults.color = '#222';

// fixed axis boxes so that the plot areas land exactly where the figure has them
function yAxis(min, max, ticks, o) {
  return {
    type: 'linear', min, max, position: o.position || 'left',
    afterFit: s => { s.width = o.width; s.paddingTop = 0; s.paddingBottom = 0; },
    afterBuildTicks: s => { s.ticks = ticks.map(value => ({ value })); },
    grid: { display: false, drawTicks: false, tickLength: 0 },
    border: { display: false },
    ticks: { padding: o.pad, color: '#222', font: { size: o.size }, callback: o.fmt || (v => String(v)) }
  };
}
function xAxis(min, max, o) {
  if (!o) return { type: 'linear', min, max, display: false };
  return {
    type: 'linear', min, max, position: 'bottom',
    afterFit: s => { s.height = o.height; s.paddingLeft = 0; s.paddingRight = 0; },
    afterBuildTicks: s => { s.ticks = o.ticks.map(value => ({ value })); },
    grid: { display: false, drawTicks: false, tickLength: 0 },
    border: { display: false },
    ticks: { padding: o.pad, color: '#222', maxRotation: 0, autoSkip: false, font: { size: o.size }, callback: v => String(v) }
  };
}
function makeChart(id, datasets, padding, scales, frame, extraPlugins) {
  return new Chart(document.getElementById(id), {
    type: 'scatter',
    data: { datasets },
    options: {
      responsive: false, animation: false, devicePixelRatio: 1, events: [],
      layout: { padding },
      plugins: { legend: { display: false }, tooltip: { enabled: false }, frame },
      scales
    },
    plugins: extraPlugins || []
  });
}

const mainFrame = (yr) => ({ xMajor: xTicks, yMajor: mainYTicks, yMinor: logMinor(yr[0], yr[1]), len: 8, minorLen: 4, color: '#555', borderWidth: 1.5 });
const residFrame = { xMajor: xTicks, yMajor: [-3, 0, 3], len: 6, color: '#555', borderWidth: 1.5,
  bands: [{ half: 2, color: '#62d8d8' }, { half: 1, color: '#4a9f4c', edge: '#338a3a' }] };
const minusFmt = v => (v < 0 ? '\u2212' + (-v) : String(v));

// ---- panel (a) ----
makeChart('mainA', [
  points(xy(binCenters(BIN_START, ssData.length), ssData), 4.5, { errMode: 'log' }),
  points(xy(ssSparseE, ssSparse), 4.5, { errMode: 'log' }),
  line(xy([roiEdges[0], roiEdges[0]], Y_A), ROI_RED, 1.2),
  line(xy([roiEdges[1], roiEdges[1]], Y_A), ROI_RED, 1.2),
  line(xy(ssBestE, ssBest), BLUE, 2.2),
  line(xy(ssZeroE, ssZero), MAGENTA, 2, [], { stepped: 'middle' }),
  line(xy(ssThE, ssTh), CYAN, 2, DASH_TH),
  line(xy(ssVesselE, ssVessel), GREEN, 2.2, DASH_VESSEL),
  line(xy(ssRnE, ssRn), RED, 1.6, DOT_RN),
  line(xy(ssLxeE, ssLxe), '#000', 2, DASHDOT),
  line(xy(ssNcapE, ssNcap), YELLOW, 2.2),
  line(xy(ssNcapOverE, ssNcapOver), YELLOW, 2.2),
  line(xy(ssDbdE, ssDbd), GREY_EDGE, 1.5, [], { fill: 'start', backgroundColor: GREY })
], { left: 0, right: 38, top: 9, bottom: 8 }, {
  x: xAxis(X_MIN, X_MAX),
  y: yAxis(Y_A[0], Y_A[1], mainYTicks, { width: 70, pad: 8, size: 16 })
}, mainFrame(Y_A));

makeChart('residA', [
  points(xy(binCenters(BIN_START, ssResid.length), ssResid), 3.7),
  points(xy(ssSparseE, ssResidSparse), 3.7)
], { left: 70, right: 0, top: 6, bottom: 6 }, {
  x: xAxis(X_MIN, X_MAX),
  y: yAxis(-6, 6, residYTicks, { position: 'right', width: 38, pad: 11, size: 12, fmt: minusFmt })
}, residFrame);

// ---- panel (b) ----
makeChart('mainB', [
  points(xy(binCenters(BIN_START, msData.length), msData), 4.5, { errMode: 'log' }),
  points(xy(msSparseE, msSparse), 4.5, { errMode: 'log' }),
  line(xy(msBestE, msBest), BLUE, 2.2),
  line(xy(msZeroE, msZero), MAGENTA, 2),
  line(xy(msThE, msTh), CYAN, 2, DASH_TH),
  line(xy(msVesselE, msVessel), GREEN, 2.2, DASH_VESSEL),
  line(xy(msRnE, msRn), RED, 1.6, DOT_RN),
  line(xy(msRnTailE, msRnTail), RED, 1.6, DOT_RN),
  line(xy(msLxeE, msLxe), '#000', 2, DASHDOT),
  line(xy(msNcapE, msNcap), YELLOW, 2.2),
  line(xy(msNcapOverE, msNcapOver), YELLOW, 2.2),
  line(xy(msDbdE, msDbd), GREY_EDGE, 1.5, [], { fill: 'start', backgroundColor: GREY })
], { left: 0, right: 38, top: 8, bottom: 10 }, {
  x: xAxis(X_MIN, X_MAX),
  y: yAxis(Y_B[0], Y_B[1], mainYTicks, { width: 70, pad: 8, size: 16 })
}, mainFrame(Y_B), [legendKeys]);

makeChart('residB', [
  points(xy(binCenters(BIN_START, msResid.length), msResid), 3.7),
  points(xy(msSparseE, msResidSparse), 3.7)
], { left: 70, right: 0, top: 5, bottom: 0 }, {
  x: xAxis(X_MIN, X_MAX, { height: 45, ticks: xTicks, pad: 4, size: 20 }),
  y: yAxis(-6, 6, residYTicks, { position: 'right', width: 38, pad: 11, size: 12, fmt: minusFmt })
}, residFrame);

// ---- insets ----
function insetStep(start, values, color, width, dash, extra) {
  return line(xy(binCenters(start, values.length), values), color, width, dash, Object.assign({ stepped: 'middle' }, extra || {}));
}

makeChart('insetA', [
  points(xy(binCenters(SS_INSET_DATA0, ssInCounts.length), ssInCounts), 4, { errMode: 'lin', xErr: 7 }),
  line(xy([roiEdges[0], roiEdges[0]], [0, 7]), ROI_RED, 1.2),
  line(xy([roiEdges[1], roiEdges[1]], [0, 7]), ROI_RED, 1.2),
  insetStep(SS_INSET_BIN0, ssInBest, BLUE, 2.2),
  insetStep(SS_INSET_BIN0, ssInZero, MAGENTA, 2),
  insetStep(SS_INSET_BIN0, ssInTh, CYAN, 2, DASH_TH),
  insetStep(SS_INSET_BIN0, ssInVessel, GREEN, 2.2, DASH_VESSEL),
  insetStep(SS_INSET_BIN0, ssInRn, RED, 1.6, DOT_RN),
  line(xy(ssInLxeE, ssInLxe), '#000', 2, DASHDOT),
  insetStep(SS_INSET_BIN0, ssInNcap, YELLOW, 2.2),
  insetStep(SS_INSET_BIN0, ssInDbd, GREY_EDGE, 1, [], { fill: 'start', backgroundColor: GREY })
], { left: 0, right: 21, top: 8, bottom: 0 }, {
  x: xAxis(2250, 2600, { height: 43, ticks: insetAXTicks, pad: 6, size: 12.5 }),
  y: yAxis(0, 7, insetAYTicks, { width: 56, pad: 8, size: 12.5 })
}, { background: '#fff', xMajor: insetAXTicks, yMajor: insetAYTicks, len: 5, color: '#222', borderWidth: 1.2 });

makeChart('insetB', [
  points(xy(binCenters(MS_INSET_DATA0, msInCounts.length), msInCounts), 4, { errMode: 'lin', xErr: 7 }),
  insetStep(MS_INSET_BIN0, msInBest, BLUE, 2.2),
  line(xy(msInZeroE, msInZero), MAGENTA, 2),
  insetStep(MS_INSET_BIN0, msInTh, CYAN, 2, DASH_TH),
  insetStep(MS_INSET_BIN0, msInVessel, GREEN, 2.2, DASH_VESSEL),
  insetStep(MS_INSET_BIN0, msInRn, RED, 1.6, DOT_RN),
  line(xy(msInLxeE, msInLxe), '#000', 2, DASHDOT),
  insetStep(MS_INSET_BIN0, msInNcap, YELLOW, 2.2),
  insetStep(MS_INSET_BIN0, msInDbd, GREY_EDGE, 1, [], { fill: 'start', backgroundColor: GREY })
], { left: 0, right: 21, top: 8, bottom: 0 }, {
  x: xAxis(2100, 2700, { height: 45, ticks: insetBXTicks, pad: 6, size: 12.5 }),
  y: yAxis(0, 50, insetBYTicks, { width: 56, pad: 8, size: 12.5 })
}, { background: '#fff', xMajor: insetBXTicks, yMajor: insetBYTicks, len: 5, color: '#222', borderWidth: 1.2 });
</script>
</body>
</html>
